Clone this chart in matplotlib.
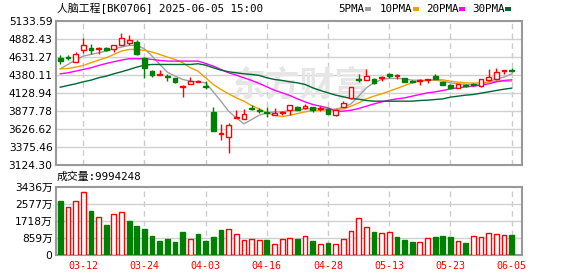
import matplotlib
matplotlib.use("Agg")
import matplotlib.pyplot as plt
from matplotlib.patches import Rectangle

plt.rcParams['font.family'] = ['DejaVu Sans', 'Noto Sans CJK SC']

#%% data
dates = ["03-07", "03-10", "03-11", "03-12", "03-13", "03-14", "03-17", "03-18", "03-19", "03-20",
         "03-21", "03-24", "03-25", "03-26", "03-27", "03-28", "03-31", "04-01", "04-02", "04-03",
         "04-07", "04-08", "04-09", "04-10", "04-11", "04-14", "04-15", "04-16", "04-17", "04-18",
         "04-21", "04-22", "04-23", "04-24", "04-25", "04-28", "04-29", "04-30", "05-06", "05-07",
         "05-08", "05-09", "05-12", "05-13", "05-14", "05-15", "05-16", "05-19", "05-20", "05-21",
         "05-22", "05-23", "05-26", "05-27", "05-28", "05-29", "05-30", "06-03", "06-04", "06-05"]
tick_dates = ["03-12", "03-24", "04-03", "04-16", "04-28", "05-13", "05-23", "06-05"]

opens = [4621, 4630, 4560, 4723, 4760, 4737, 4760, 4737, 4793, 4826,
         4844, 4621, 4434, 4378, 4360, 4332, 4210, 4252, 4276, 4229,
         3861, 3563, 3511, 3782, 3772, 3926, 3893, 3866, 3828, 3852,
         3889, 3931, 3921, 3931, 3907, 3912, 3828, 3940, 4061, 4318,
         4308, 4327, 4336, 4401, 4364, 4336, 4294, 4299, 4308, 4373,
         4276, 4234, 4201, 4238, 4248, 4224, 4313, 4318, 4434, 4453]
highs = [4653, 4653, 4700, 4900, 4816, 4774, 4774, 4798, 4970, 4933,
         4863, 4635, 4443, 4443, 4397, 4341, 4238, 4350, 4313, 4299,
         3931, 3698, 3712, 3889, 3908, 3959, 3921, 3931, 3921, 3884,
         3968, 3945, 3977, 3940, 3945, 3921, 3912, 4024, 4215, 4397,
         4467, 4341, 4360, 4411, 4397, 4341, 4313, 4318, 4322, 4397,
         4280, 4257, 4252, 4248, 4262, 4327, 4457, 4471, 4448, 4471]
lows = [4527, 4588, 4560, 4681, 4667, 4667, 4714, 4704, 4793, 4793,
        4653, 4341, 4355, 4378, 4294, 4271, 4080, 4252, 4276, 4182,
        3595, 3479, 3292, 3782, 3772, 3889, 3852, 3791, 3819, 3819,
        3819, 3889, 3912, 3861, 3884, 3842, 3814, 3940, 4052, 4280,
        4308, 4257, 4294, 4341, 4322, 4280, 4266, 4234, 4271, 4322,
        4234, 4178, 4192, 4215, 4220, 4215, 4294, 4308, 4397, 4420]
closes = [4574, 4620, 4676, 4797, 4723, 4756, 4732, 4793, 4900, 4863,
          4667, 4471, 4378, 4387, 4346, 4280, 4220, 4294, 4290, 4210,
          3605, 3577, 3679, 3796, 3842, 3912, 3884, 3847, 3852, 3866,
          3959, 3898, 3954, 3898, 3921, 3842, 3898, 3991, 4210, 4304,
          4364, 4271, 4350, 4364, 4378, 4285, 4280, 4313, 4322, 4327,
          4238, 4192, 4248, 4224, 4234, 4322, 4350, 4425, 4448, 4439]

ma5 = [4467, 4527, 4588, 4644, 4667, 4690, 4714, 4746, 4770, 4793,
       4793, 4746, 4644, 4527, 4420, 4364, 4318, 4294, 4285, 4271,
       4145, 4015, 3875, 3782, 3698, 3758, 3819, 3852, 3866, 3866,
       3884, 3889, 3907, 3912, 3912, 3903, 3903, 3931, 3977, 4085,
       4201, 4271, 4318, 4332, 4332, 4327, 4308, 4308, 4304, 4308,
       4294, 4271, 4257, 4248, 4243, 4248, 4285, 4327, 4350, 4397]
ma10 = [4467, 4471, 4490, 4513, 4551, 4588, 4621, 4667, 4714, 4737,
        4737, 4723, 4700, 4667, 4630, 4597, 4551, 4481, 4434, 4341,
        4248, 4178, 4117, 4061, 4015, 3954, 3907, 3852, 3819, 3800,
        3819, 3842, 3866, 3884, 3889, 3893, 3898, 3907, 3945, 3991,
        4047, 4085, 4117, 4155, 4192, 4234, 4271, 4294, 4308, 4313,
        4313, 4294, 4280, 4271, 4266, 4271, 4280, 4294, 4294, 4294]
ma20 = [4397, 4411, 4434, 4457, 4481, 4513, 4541, 4565, 4588, 4607,
        4607, 4607, 4597, 4583, 4574, 4574, 4574, 4574, 4574, 4541,
        4504, 4457, 4411, 4378, 4341, 4304, 4262, 4215, 4168, 4131,
        4094, 4047, 4005, 3968, 3945, 3921, 3875, 3875, 3889, 3912,
        3945, 3977, 4005, 4029, 4047, 4061, 4085, 4108, 4131, 4145,
        4164, 4187, 4201, 4215, 4224, 4238, 4257, 4285, 4304, 4313]
ma30 = [4210, 4234, 4257, 4285, 4308, 4341, 4364, 4397, 4425, 4457,
        4490, 4518, 4527, 4527, 4527, 4527, 4527, 4527, 4537, 4518,
        4481, 4448, 4425, 4411, 4397, 4388, 4374, 4341, 4318, 4304,
        4285, 4271, 4248, 4201, 4164, 4131, 4099, 4075, 4052, 4043,
        4024, 4015, 4015, 4015, 4015, 4015, 4015, 4024, 4029, 4038,
        4047, 4071, 4085, 4099, 4108, 4127, 4145, 4164, 4182, 4197]

# volume in 万, 1 = up day (red), 0 = down day (green)
volume = [2728, 2430, 2711, 3158, 2182, 1918, 1488, 2067, 2166, 1686,
          1438, 1323, 942, 694, 794, 645, 1141, 827, 1042, 694,
          893, 1240, 1323, 1075, 777, 827, 744, 744, 546, 827,
          876, 794, 942, 694, 546, 612, 546, 827, 1190, 1868,
          1389, 1141, 1091, 1141, 893, 744, 645, 645, 876, 893,
          942, 893, 694, 612, 942, 893, 1091, 1042, 992, 999.4248]
vol_up = [0, 1, 1, 1, 0, 1, 0, 1, 1, 0,
          0, 0, 0, 0, 0, 0, 0, 1, 0, 0,
          0, 0, 1, 1, 1, 1, 1, 0, 1, 1,
          1, 0, 1, 0, 1, 0, 1, 1, 1, 1,
          1, 0, 1, 1, 0, 0, 0, 1, 1, 0,
          0, 0, 1, 0, 1, 1, 1, 1, 1, 0]

price_ticks = [3124.30, 3375.46, 3626.62, 3877.78, 4128.94, 4380.11, 4631.27, 4882.43, 5133.59]
vol_ticks = [0, 859, 1718, 2577, 3436]

title = "人脑工程[BK0706] 2025-06-05 15:00"
vol_title = "成交量:9994248"
ma_names = ["5PMA", "10PMA", "20PMA", "30PMA"]

#%%
RED = '#ff0000'
GREEN = '#008000'
ma_colors = ['#a0a0a0', '#f0a000', '#ff00ff', '#006633']
W, H = 578, 276

fig = plt.figure(figsize=(W / 100, H / 100), dpi=100)
ax = fig.add_axes([56 / W, 1 - 165 / H, 466 / W, 144 / H])
axv = fig.add_axes([56 / W, 1 - 255 / H, 466 / W, 68.5 / H])

x = list(range(len(dates)))
tick_pos = [dates.index(d) for d in tick_dates]
bw = 0.62
px = (price_ticks[-1] - price_ticks[0]) / 144

for a in (ax, axv):
    a.set_xlim(-0.56, len(dates) + 0.35)
    for s in a.spines.values():
        s.set_color('#999999')
        s.set_linewidth(1.5)
    a.tick_params(length=0, labelsize=7.7, colors='#000000', pad=2.5)
    for p in tick_pos:
        a.axvline(p, color='#cccccc', lw=1, ls=(0, (4, 3)), zorder=0)

# price panel
ax.set_ylim(price_ticks[0], price_ticks[-1])
ax.set_yticks(price_ticks)
ax.set_yticklabels([f"{v:.2f}" for v in price_ticks])
for v in price_ticks[1:-1]:
    ax.axhline(v, color='#d0d0d0', lw=1, zorder=0)
ax.set_xticks([])

# faint watermark
ax.text(0.525, 0.555, "东方财富", transform=ax.transAxes, fontsize=25, fontweight='bold',
        color='#e6e6e6', ha='center', va='center', zorder=0)

for i in x:
    o, h, l, c = opens[i], highs[i], lows[i], closes[i]
    up = c >= o
    col = RED if up else GREEN
    top, bot = max(o, c), min(o, c)
    hgt = max(top - bot, px)
    if up:
        ax.vlines(i, top, h, color=col, lw=1, zorder=3)
        ax.vlines(i, l, bot, color=col, lw=1, zorder=3)
        ax.add_patch(Rectangle((i - bw / 2, bot), bw, hgt, facecolor='white',
                               edgecolor=col, lw=1, zorder=3))
    else:
        ax.vlines(i, l, h, color=col, lw=1, zorder=3)
        ax.add_patch(Rectangle((i - bw / 2, bot), bw, hgt, facecolor=col,
                               edgecolor=col, lw=1, zorder=3))

for ma, col in zip([ma5, ma10, ma20, ma30], ma_colors):
    ax.plot(x, ma, color=col, lw=1, zorder=2)

# volume panel
axv.set_ylim(0, vol_ticks[-1])
axv.set_yticks(vol_ticks)
axv.set_yticklabels(["0"] + [f"{v}万" for v in vol_ticks[1:]])
for v in vol_ticks[1:-1]:
    axv.axhline(v, color='#d0d0d0', lw=1, zorder=0)
for i in x:
    if vol_up[i]:
        axv.bar(i, volume[i], width=bw, facecolor='white', edgecolor=RED, lw=1, zorder=3)
    else:
        axv.bar(i, volume[i], width=bw, facecolor=GREEN, edgecolor=GREEN, lw=1, zorder=3)
axv.set_xticks(tick_pos)
axv.set_xticklabels(tick_dates, family=['DejaVu Sans Mono'], fontsize=7.2, color=RED)
axv.tick_params(axis='x', pad=4)

# header texts
mono = ['DejaVu Sans Mono', 'Noto Sans CJK SC']
fig.text(57 / W, 1 - 8.5 / H, title, family=mono, fontsize=7.8, va='center', ha='left')
fig.text(57 / W, 1 - 177 / H, vol_title, family=mono, fontsize=7.8, va='center', ha='left')

lx = [338, 380, 426, 472]
for name, col, x0 in zip(ma_names, ma_colors, lx):
    t = fig.text(x0 / W, 1 - 8.5 / H, name, family=mono, fontsize=7.8, va='center', ha='left')
    w = 6.2 * len(name)
    fig.patches.append(Rectangle(((x0 + w + 2) / W, 1 - 10.5 / H), 6 / W, 3 / H,
                                 transform=fig.transFigure, facecolor=col, edgecolor='none'))

fig.savefig("out.png", dpi=100)
